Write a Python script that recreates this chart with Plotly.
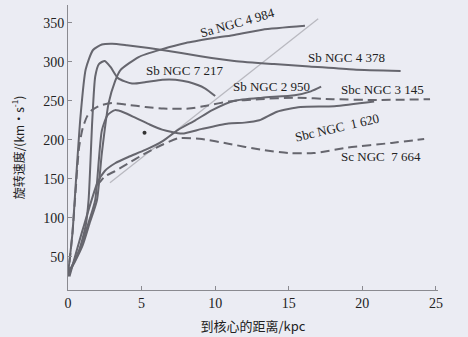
import plotly.graph_objects as go

# ---- data (kpc, km/s) ----
n4984_r = [0, 0.5, 1.0, 1.5, 1.97, 2.3, 2.76, 3.2, 3.55, 4.8, 6.4, 8.0, 9.8, 11.2, 13.2, 16.1]
n4984_v = [28, 45, 65, 95, 123, 183, 247, 275, 289, 306, 316, 324, 330, 334, 341, 346]

n4378_r = [0, 0.3, 0.55, 0.85, 1.2, 1.7, 2.3, 3.0, 4.0, 6.4, 9.0, 11.3, 14.0, 16.4, 19.4, 22.6]
n4378_v = [28, 80, 150, 230, 290, 315, 322, 323, 321, 315, 307, 301, 297, 294, 290, 288]

n7217_r = [0, 0.7, 1.2, 1.4, 1.65, 1.85, 2.1, 2.5, 2.9, 3.4, 4.35, 5.3, 6.4, 7.3, 8.2, 9.3, 10.0]
n7217_v = [28, 55, 90, 123, 225, 281, 297, 301, 293, 279, 272, 274, 277, 277, 274, 266, 256]

n2950_r = [0.1, 1.0, 2.0, 2.5, 3.2, 4.1, 5.25, 6.4, 7.5, 8.65, 9.8, 11.3, 13.2, 15.4, 16.5, 17.2]
n2950_v = [25, 85, 145, 160, 170, 178, 187, 198, 213, 225, 238, 250, 254, 257, 262, 268]

n3145_r = [0, 0.3, 0.5, 0.75, 1.0, 1.3, 1.63, 2.2, 3.0, 4.0, 5.25, 6.5, 8.2, 9.5, 10.9, 13.0, 15.4, 18.0, 21.0, 24.6]
n3145_v = [25, 80, 130, 190, 215, 230, 238, 244, 247, 245, 242, 240, 240, 244, 249, 252, 254, 252, 251, 252]

n1620_r = [0, 0.8, 1.5, 1.85, 2.3, 2.7, 3.2, 3.8, 4.6, 5.5, 6.4, 7.75, 9.1, 10.9, 12.0, 13.0, 14.2, 15.8, 18.1, 20.8]
n1620_v = [28, 60, 100, 123, 212, 232, 238, 235, 228, 220, 213, 208, 214, 221, 222, 225, 236, 242, 243, 249]

n7664_r = [2.0, 2.5, 3.2, 4.1, 5.0, 5.9, 7.5, 9.1, 10.9, 13.2, 15.0, 16.7, 19.0, 22.0, 24.2]
n7664_v = [142, 153, 160, 170, 180, 189, 202, 201, 195, 187, 183, 183, 190, 196, 201]

guide_r = [2.85, 17.0]
guide_v = [145, 355]

dot_r = [5.2]
dot_v = [209]

labels = ["Sa NGC 4 984", "Sb NGC 4 378", "Sb NGC 7 217", "Sb NGC 2 950",
          "Sbc NGC 3 145", "Sbc NGC  1 620", "Sc NGC  7 664"]
label_r = [11.55, 18.95, 7.9, 13.8, 21.4, 18.3, 21.3]
label_v = [350, 305, 289, 268, 264, 216, 178]
label_angle = [-16, 0, 0, 0, 0, -13, 0]

x_ticks = [0, 5, 10, 15, 20, 25]
y_ticks = [50, 100, 150, 200, 250, 300, 350]

CURVE = "#66666e"
BG = "#ebecf3"

fig = go.Figure()

fig.add_trace(go.Scatter(x=guide_r, y=guide_v, mode="lines",
                         line=dict(color="#b9b9c0", width=1.3), hoverinfo="skip"))

solid = [(n4984_r, n4984_v), (n4378_r, n4378_v), (n7217_r, n7217_v),
         (n2950_r, n2950_v), (n1620_r, n1620_v)]
dashed = [(n3145_r, n3145_v), (n7664_r, n7664_v)]

for r, v in solid:
    fig.add_trace(go.Scatter(x=r, y=v, mode="lines",
                             line=dict(color=CURVE, width=2, shape="spline", smoothing=0.6)))
for r, v in dashed:
    fig.add_trace(go.Scatter(x=r, y=v, mode="lines",
                             line=dict(color=CURVE, width=2, shape="spline", smoothing=0.6,
                                       dash="9px,5px")))

fig.add_trace(go.Scatter(x=dot_r, y=dot_v, mode="markers",
                         marker=dict(color="#333", size=4)))

for t, r, v, a in zip(labels, label_r, label_v, label_angle):
    fig.add_annotation(x=r, y=v, text=t, showarrow=False, textangle=a,
                       font=dict(family="Liberation Serif", size=13, color="#222"))

fig.update_layout(
    width=468, height=337,
    margin=dict(l=68, r=30, t=5, b=47),
    paper_bgcolor=BG, plot_bgcolor=BG,
    showlegend=False,
    font=dict(family="Liberation Serif", color="#222"),
    xaxis=dict(range=[0, 25.14], tickvals=x_ticks, showgrid=False, zeroline=False,
               automargin=False,
               showline=True, linecolor="#8a8a90", linewidth=1,
               ticks="inside", ticklen=4, tickcolor="#8a8a90",
               tickfont=dict(family="Liberation Serif", size=14, color="#222"),
               title=dict(text="到核心的距离/kpc", standoff=12,
                          font=dict(family="Noto Sans CJK SC, Liberation Serif", size=13, color="#222"))),
    yaxis=dict(range=[7.7, 372.6], tickvals=y_ticks, showgrid=False, zeroline=False,
               automargin=False,
               showline=True, linecolor="#8a8a90", linewidth=1,
               ticks="inside", ticklen=4, tickcolor="#8a8a90",
               tickfont=dict(family="Liberation Serif", size=14, color="#222"),
               title=dict(text="旋转速度/(km·s<sup>-1</sup>)", standoff=16,
                          font=dict(family="Noto Sans CJK SC, Liberation Serif", size=12, color="#222"))),
)

fig.write_html("out.html",
               config={"displayModeBar": False, "staticPlot": True},
               post_script="document.body.style.margin='0';document.body.style.background='%s';" % BG)
